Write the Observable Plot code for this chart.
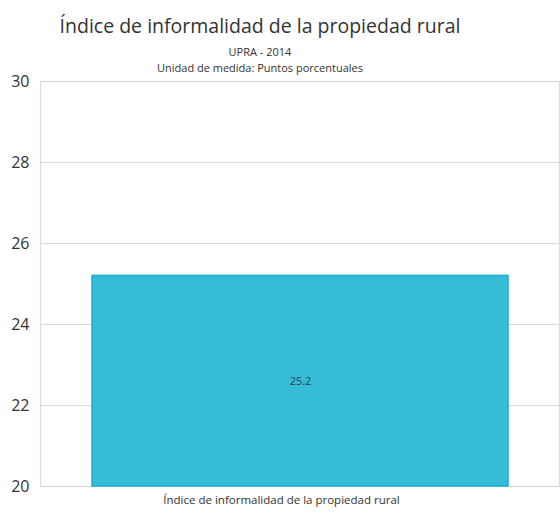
<!DOCTYPE html>
<html>
<head>
<meta charset="utf-8">
<script src="https://cdn.jsdelivr.net/npm/d3@7"></script>
<script src="https://cdn.jsdelivr.net/npm/@observablehq/plot@0.6"></script>
<style>
  html, body { margin: 0; padding: 0; background: #fff; }
  body { width: 560px; height: 514px; overflow: hidden; font-family: "Open Sans", "Noto Sans", sans-serif; }
  #head { width: 520px; height: 62px; text-align: center; color: #333; position: relative; }
  #title { position: absolute; left: 0; width: 520px; top: 12px; font-size: 19.5px; line-height: 28px; }
  #sub1 { position: absolute; left: 0; width: 520px; top: 44px; font-size: 11px; line-height: 15px; }
  #sub2 { position: absolute; left: 0; width: 520px; top: 60px; font-size: 11px; line-height: 15px; }
  #chart svg { display: block; }
</style>
</head>
<body>
<div id="head">
  <div id="title"></div>
  <div id="sub1"></div>
  <div id="sub2"></div>
</div>
<div id="chart"></div>
<script>
const titleText = "Índice de informalidad de la propiedad rural";
const subtitle1 = "UPRA - 2014";
const subtitle2 = "Unidad de medida: Puntos porcentuales";

const categories = ["Índice de informalidad de la propiedad rural"];
const values = [25.2];
const yDomain = [20, 30];
const yTicks = [20, 22, 24, 26, 28, 30];

document.getElementById("title").textContent = titleText;
document.getElementById("sub1").textContent = subtitle1;
document.getElementById("sub2").textContent = subtitle2;

const data = categories.map((c, i) => ({name: c, value: values[i]}));

const chart = Plot.plot({
  width: 560,
  height: 452,
  marginTop: 19,
  marginBottom: 28,
  marginLeft: 40,
  marginRight: 1,
  style: {fontFamily: "'Open Sans', 'Noto Sans', sans-serif", color: "#333", background: "transparent", overflow: "visible"},
  x: {domain: categories, padding: 0.11, label: null},
  y: {domain: yDomain, label: null},
  marks: [
    Plot.gridY(yTicks, {stroke: "#dcdcdc", strokeOpacity: 1, strokeWidth: 1.2}),
    Plot.frame({stroke: "#dcdcdc", strokeWidth: 1.2}),
    Plot.barY(data, {x: "name", y1: () => yDomain[0], y2: "value", fill: "#36bcd6", stroke: "#14b0ce", strokeWidth: 1.5}),
    Plot.text(data, {x: "name", y: d => (yDomain[0] + d.value) / 2, text: d => d3.format(".1f")(d.value), fontSize: 11, fill: "#2a4450"}),
    Plot.axisY({ticks: yTicks, tickSize: 0, tickPadding: 11, fontSize: 16, tickFormat: d => String(d)}),
    Plot.axisX({tickSize: 0, tickPadding: 9, fontSize: 11.5, dx: -19})
  ]
});
document.getElementById("chart").appendChild(chart);
</script>
</body>
</html>
